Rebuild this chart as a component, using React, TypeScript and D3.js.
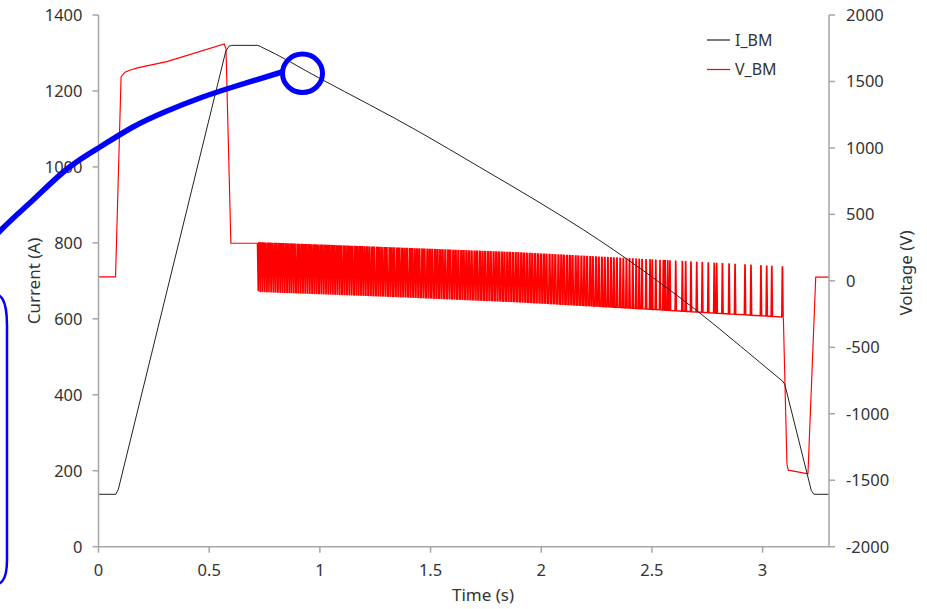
import React from 'react';
import * as d3 from 'd3';

const W = 927;
const H = 609;

// ---- Data ----
// ramp-up and plateau
const currentRiseTime = [0, 0.078, 0.09, 0.575, 0.59, 0.6, 0.72];
const currentRiseValue = [138, 138, 152, 1305, 1318, 1320, 1320];
// smooth decline
const currentFallTime = [0.72, 0.735, 1.0, 1.45, 1.72, 1.99, 2.26, 2.52, 2.70, 2.90, 3.09];
const currentFallValue = [1320, 1316, 1233, 1092, 1000, 907, 808, 702, 623, 528, 436];
// final drop
const currentEndTime = [3.09, 3.10, 3.22, 3.232, 3.3];
const currentEndValue = [436, 428, 148, 138, 138];

const voltageHeadTime = [0, 0.077, 0.102, 0.12, 0.144, 0.181, 0.309, 0.568, 0.576, 0.598, 0.718];
const voltageHeadValue = [30, 30, 1536, 1570, 1586, 1604, 1649, 1782, 1745, 283, 283];

const pwmSpikeTimes = [
  0.724, 0.733, 0.743, 0.753, 0.764, 0.773, 0.783, 0.794, 0.803, 0.814, 0.824, 0.834, 0.845, 0.855, 0.866, 0.875,
  0.885, 0.897, 0.906, 0.917, 0.927, 0.937, 0.948, 0.958, 0.969, 0.979, 0.989, 1.000, 1.010, 1.021, 1.031, 1.041,
  1.052, 1.062, 1.073, 1.083, 1.093, 1.105, 1.115, 1.126, 1.136, 1.146, 1.158, 1.168, 1.179, 1.189, 1.200,
  1.211, 1.222, 1.234, 1.244, 1.257, 1.267, 1.278, 1.290, 1.300, 1.313, 1.323, 1.334, 1.347, 1.357, 1.369, 1.380,
  1.391, 1.404, 1.414, 1.426, 1.437, 1.448, 1.461, 1.471, 1.484, 1.495, 1.506, 1.519, 1.530, 1.542, 1.553, 1.565,
  1.578, 1.588, 1.601, 1.612, 1.624, 1.637, 1.648, 1.660, 1.672, 1.684, 1.697, 1.708, 1.721, 1.733, 1.745, 1.758,
  1.770, 1.783, 1.795, 1.807, 1.820, 1.832, 1.845, 1.857, 1.870, 1.883, 1.895, 1.908, 1.920, 1.933, 1.946, 1.958,
  1.971, 1.984, 1.997, 2.010, 2.022, 2.036, 2.049, 2.062, 2.076,
  2.089, 2.101, 2.115, 2.128, 2.140, 2.154, 2.166, 2.180, 2.193, 2.206, 2.220, 2.232, 2.246, 2.259, 2.273, 2.286,
  2.300, 2.314, 2.327, 2.341, 2.356, 2.370, 2.384, 2.398, 2.413, 2.428, 2.442, 2.455,
  2.473, 2.491, 2.501, 2.517, 2.536, 2.551, 2.559, 2.571, 2.581, 2.607, 2.637, 2.652, 2.676, 2.702, 2.727, 2.754,
  2.781, 2.792, 2.818, 2.848, 2.875, 2.920, 2.947, 2.992, 3.018, 3.041, 3.089,
];
const pwmEnvTime = [0.72, 1.315, 1.9, 2.486, 3.09];
const pwmHighValue = [286, 248, 210, 158, 104];
const pwmLowValue = [-78, -115, -157, -213, -272];
const pwmHoldTime = [0.72, 2.1, 2.35, 2.47, 3.09];
const pwmHoldWidth = [0.0035, 0.0035, 0.002, 0.0012, 0.0012];

const voltageTailTime = [3.094, 3.11, 3.116, 3.205, 3.24, 3.3];
const voltageTailValue = [-290, -1380, -1424, -1452, 28, 28];

const xTickValues = [0, 0.5, 1, 1.5, 2, 2.5, 3];
const leftTickValues = [0, 200, 400, 600, 800, 1000, 1200, 1400];
const rightTickValues = [-2000, -1500, -1000, -500, 0, 500, 1000, 1500, 2000];
const seriesNames = ['I_BM', 'V_BM'];
const seriesColors = ['#222222', '#ff0000'];

// annotation overlay (pixel space)
const annotationArc: [number, number][] = [
  [-40, 276], [0, 231], [33, 200], [67, 169], [100, 147], [133, 127], [167, 111], [200, 98], [233, 87], [282, 72],
];

const PL = 98.5, PR = 829, PT = 15, PB = 546.7;

export default function App() {
  const x = d3.scaleLinear().domain([0, 3.3]).range([PL, PR]);
  const yL = d3.scaleLinear().domain([0, 1400]).range([PB, PT]);
  const yR = d3.scaleLinear().domain([-2000, 2000]).range([PB, PT]);

  const high = d3.scaleLinear().domain(pwmEnvTime).range(pwmHighValue).clamp(true);
  const low = d3.scaleLinear().domain(pwmEnvTime).range(pwmLowValue).clamp(true);
  const hold = d3.scaleLinear().domain(pwmHoldTime).range(pwmHoldWidth).clamp(true);
  const rise = 0.0025;

  const pairs = (ts: number[], vs: number[]): [number, number][] => ts.map((t, i) => [t, vs[i]]);
  const curRise = pairs(currentRiseTime, currentRiseValue);
  const curFall = pairs(currentFallTime, currentFallValue);
  const curEnd = pairs(currentEndTime, currentEndValue);

  const voltHead = pairs(voltageHeadTime, voltageHeadValue);
  const pwm: [number, number][] = [voltHead[voltHead.length - 1]];
  pwmSpikeTimes.forEach((t, i) => {
    const next = i < pwmSpikeTimes.length - 1 ? pwmSpikeTimes[i + 1] : t + 0.01;
    const h = Math.max(0.0003, Math.min(hold(t), next - t - 2 * rise - 0.0008));
    pwm.push([t - rise, low(t)]);
    pwm.push([t, high(t)]);
    pwm.push([t + h, high(t + h)]);
    pwm.push([t + h + rise, low(t + h + rise)]);
  });
  const voltTail: [number, number][] = [pwm[pwm.length - 1], ...pairs(voltageTailTime, voltageTailValue)];

  const lineI = d3.line<[number, number]>().x(d => x(d[0])).y(d => yL(d[1]));
  const lineISmooth = d3.line<[number, number]>().x(d => x(d[0])).y(d => yL(d[1])).curve(d3.curveMonotoneX);
  const lineV = d3.line<[number, number]>().x(d => x(d[0])).y(d => yR(d[1]));
  const arcLine = d3.line<[number, number]>().x(d => d[0]).y(d => d[1]).curve(d3.curveNatural);

  const axisColor = '#a6a6a6';
  const textColor = '#333333';
  const font = '"Noto Sans", "Open Sans", sans-serif';

  return (
    <svg width={W} height={H} style={{ position: 'absolute', left: 0, top: 0, background: '#ffffff', overflow: 'hidden' }} fontFamily={font}>
      <rect x={0} y={0} width={W} height={H} fill="#ffffff" />
      {/* series */}
      <g fill="none" stroke={seriesColors[1]}>
        <path d={lineV(voltHead) || ''} strokeWidth={1.15} />
        <path d={lineV(pwm) || ''} strokeWidth={1.5} />
        <path d={lineV(voltTail) || ''} strokeWidth={1.15} />
      </g>
      <g fill="none" stroke={seriesColors[0]} strokeWidth={1}>
        <path d={lineI(curRise) || ''} />
        <path d={lineISmooth(curFall) || ''} />
        <path d={lineI(curEnd) || ''} />
      </g>

      {/* axes */}
      <g stroke={axisColor} strokeWidth={1.5} fill="none">
        <line x1={PL} y1={PT} x2={PL} y2={PB} />
        <line x1={PR} y1={PT} x2={PR} y2={PB} />
        <line x1={PL} y1={PB} x2={PR} y2={PB} />
        {leftTickValues.map(v => <line key={'lt' + v} x1={PL - 6} x2={PL} y1={yL(v)} y2={yL(v)} />)}
        {rightTickValues.map(v => <line key={'rt' + v} x1={PR} x2={PR + 6} y1={yR(v)} y2={yR(v)} />)}
        {xTickValues.map(v => <line key={'xt' + v} x1={x(v)} x2={x(v)} y1={PB} y2={PB + 6} />)}
      </g>
      <g fill={textColor} fontSize={16.5}>
        {leftTickValues.map(v => (
          <text key={'ll' + v} x={PL - 16} y={yL(v)} dy="0.36em" textAnchor="end">{v}</text>
        ))}
        {rightTickValues.map(v => (
          <text key={'rl' + v} x={846} y={yR(v)} dy="0.36em" textAnchor="start">{v}</text>
        ))}
        {xTickValues.map(v => (
          <text key={'xl' + v} x={x(v)} y={576} textAnchor="middle">{String(v)}</text>
        ))}
      </g>
      <g fill={textColor} fontSize={17}>
        <text x={483} y={601} textAnchor="middle">Time (s)</text>
        <text transform={`translate(40,281) rotate(-90)`} textAnchor="middle">Current (A)</text>
        <text transform={`translate(912,273) rotate(-90)`} textAnchor="middle">Voltage (V)</text>
      </g>

      {/* legend */}
      {seriesNames.map((name, i) => (
        <g key={name} transform={`translate(0,${40 + i * 29.5})`}>
          <line x1={707} x2={730} y1={0} y2={0} stroke={seriesColors[i]} strokeWidth={1.2} />
          <text x={735} y={0} dy="0.36em" fontSize={16} fill={textColor}>{name}</text>
        </g>
      ))}

      {/* annotation overlay */}
      <path d={arcLine(annotationArc) || ''} fill="none" stroke="#0000ff" strokeWidth={5.5} strokeLinecap="round" />
      <ellipse cx={302.5} cy={73.3} rx={20} ry={19.2} fill="none" stroke="#0000ff" strokeWidth={5} />
      <path d="M -60 291 L -18 291 C 3 291 7 300 7 326 L 7 560 C 7 580 3 587 -18 587 L -60 587" fill="none" stroke="#0000ff" strokeWidth={2.5} />
    </svg>
  );
}
